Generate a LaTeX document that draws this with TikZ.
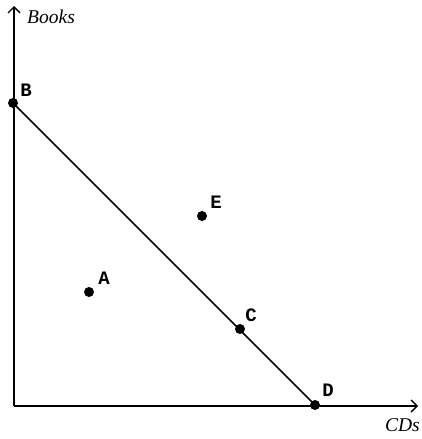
\documentclass[tikz,border=0pt]{standalone}
\usepackage{fontspec}
\setmainfont{Liberation Serif}
\newfontfamily\lblfont{Liberation Mono}
\usetikzlibrary{arrows.meta}
\begin{document}
\begin{tikzpicture}[x=1pt,y=-1pt,
  ax/.style={line width=1.6pt,-{Straight Barb[length=6pt,width=12pt,line width=1.4pt]}},
  dot/.style={circle,fill=black,inner sep=0pt,minimum size=10pt},
  lbl/.style={font=\lblfont\bfseries\fontsize{19}{21}\selectfont,inner sep=0pt},
  axl/.style={font=\itshape\fontsize{19.5}{21}\selectfont,inner sep=0pt}]
\useasboundingbox (0,0) rectangle (421,439);
\coordinate (O) at (14,406);
\coordinate (Ytop) at (14,6);
\coordinate (Xend) at (418,406);
\draw[ax] (O) -- (Ytop);
\draw[ax] (O) -- (Xend);
\node[dot] (B) at (13,103) {};
\node[dot] (D) at (315,405) {};
\node[dot] (C) at (240,329) {};
\node[dot] (E) at (202,216) {};
\node[dot] (A) at (89,292) {};
\draw[line width=1.5pt] (B.center) -- (D.center);
\node[lbl] (lB) at (26,90) {B};
\node[lbl] (lD) at (328,390) {D};
\node[lbl] (lC) at (251,315) {C};
\node[lbl] (lE) at (216,202) {E};
\node[lbl] (lA) at (104,278) {A};
\node[axl,anchor=west] (lBooks) at (27,17) {Books};
\node[axl,anchor=east] (lCDs) at (420,425) {CDs};
\end{tikzpicture}
\end{document}
